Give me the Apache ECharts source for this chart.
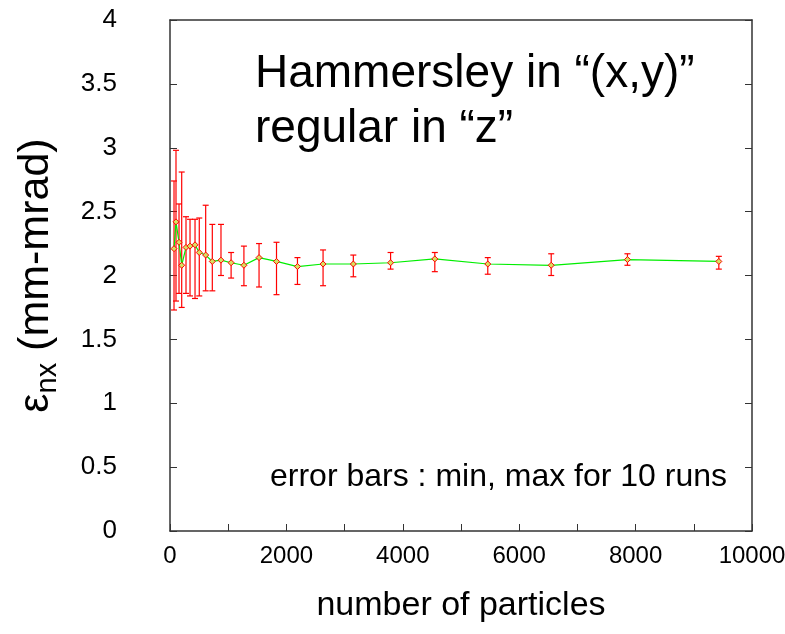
<!DOCTYPE html>
<html>
<head>
<meta charset="utf-8">
<script src="https://cdn.jsdelivr.net/npm/echarts@6/dist/echarts.min.js"></script>
<style>
  html, body { margin: 0; padding: 0; background: #fff; }
  #chart { width: 785px; height: 634px; }
</style>
</head>
<body>
<div id="chart"></div>
<script>
// Number of macro-particles per run
const particles = [69, 103, 155, 201, 275, 344, 430, 503, 613, 727, 876, 1050, 1270, 1530, 1830, 2190, 2630, 3150, 3790, 4550, 5460, 6550, 7860, 9430];
// Mean normalised emittance over the runs (mm-mrad)
const emitMean = [2.21, 2.42, 2.26, 2.08, 2.22, 2.23, 2.24, 2.18, 2.16, 2.11, 2.12, 2.10, 2.08, 2.14, 2.11, 2.07, 2.09, 2.09, 2.10, 2.13, 2.09, 2.08, 2.125, 2.11];
// Smallest and largest emittance among the 10 runs
const emitMin = [1.73, 1.80, 1.86, 1.75, 1.86, 1.84, 1.82, 1.84, 1.88, 1.88, 2.00, 1.98, 1.92, 1.91, 1.85, 1.93, 1.92, 1.99, 2.05, 2.03, 2.01, 2.00, 2.08, 2.05];
const emitMax = [2.74, 2.98, 2.56, 2.81, 2.46, 2.44, 2.44, 2.45, 2.55, 2.40, 2.40, 2.18, 2.23, 2.25, 2.26, 2.14, 2.20, 2.16, 2.18, 2.18, 2.14, 2.17, 2.17, 2.15];
// Axis ticks
const xTicks = [0, 2000, 4000, 6000, 8000, 10000];
const yTicks = [0, 0.5, 1, 1.5, 2, 2.5, 3, 3.5, 4];

const FONT = 'Liberation Sans, Arial, sans-serif';
const chart = echarts.init(document.getElementById('chart'), null, { renderer: 'canvas' });

const lineData = particles.map((n, i) => [n, emitMean[i]]);
const barData = particles.map((n, i) => [n, emitMin[i], emitMax[i]]);

const frame = { show: true, onZero: false, lineStyle: { color: '#333', width: 1.5 } };
const tickStyle = { color: '#333', width: 1 };
const plain = v => String(v);

chart.setOption({
  animation: false,
  backgroundColor: '#fff',
  grid: { left: 170, right: 33, top: 20, bottom: 103, containLabel: false, outerBoundsMode: 'none' },
  xAxis: [{
    type: 'value',
    min: xTicks[0], max: xTicks[xTicks.length - 1], interval: 2000,
    axisLine: frame,
    axisTick: { show: true, inside: true, length: 7, lineStyle: tickStyle },
    minorTick: { show: true, splitNumber: 2, length: 7, lineStyle: tickStyle },
    splitLine: { show: false },
    axisLabel: { color: '#000', fontFamily: FONT, fontSize: 24, margin: 13, formatter: plain },
    name: 'number of particles',
    nameLocation: 'middle',
    nameGap: 58,
    nameTextStyle: { color: '#000', fontFamily: FONT, fontSize: 34 }
  }, {
    type: 'value', position: 'top',
    min: xTicks[0], max: xTicks[xTicks.length - 1], interval: 2000,
    axisLine: frame, axisTick: { show: false }, axisLabel: { show: false }, splitLine: { show: false }
  }],
  yAxis: [{
    type: 'value',
    min: yTicks[0], max: yTicks[yTicks.length - 1], interval: 0.5,
    axisLine: frame,
    axisTick: { show: true, inside: true, length: 7, lineStyle: tickStyle },
    splitLine: { show: false },
    axisLabel: { color: '#000', fontFamily: FONT, fontSize: 26, margin: 53, formatter: plain },
    name: '{e|ε}{s|nx}{e| (mm-mrad)}',
    nameLocation: 'middle',
    nameGap: 108,
    nameRotate: 90,
    nameTextStyle: {
      color: '#000', fontFamily: FONT,
      rich: {
        e: { fontFamily: FONT, fontSize: 43, color: '#000', lineHeight: 52, verticalAlign: 'middle' },
        s: { fontFamily: FONT, fontSize: 29, color: '#000', lineHeight: 29, verticalAlign: 'bottom' }
      }
    }
  }, {
    type: 'value', position: 'right',
    min: yTicks[0], max: yTicks[yTicks.length - 1], interval: 0.5,
    axisLine: frame,
    axisTick: { show: true, inside: true, length: 7, lineStyle: tickStyle },
    axisLabel: { show: false }, splitLine: { show: false }
  }],
  graphic: [
    { type: 'text', left: 255, top: 51, style: { text: 'Hammersley in “(x,y)”', fill: '#000', font: '46px ' + FONT } },
    { type: 'text', left: 255, top: 106, style: { text: 'regular in “z”', fill: '#000', font: '46px ' + FONT } },
    { type: 'text', left: 270, top: 461, style: { text: 'error bars : min, max for 10 runs', fill: '#000', font: '32px ' + FONT } }
  ],
  series: [{
    type: 'custom',
    name: 'range',
    data: barData,
    encode: { x: 0, y: [1, 2] },
    z: 2,
    renderItem: function (params, api) {
      const x = api.value(0);
      const lo = api.coord([x, api.value(1)]);
      const hi = api.coord([x, api.value(2)]);
      const w = 3;
      const st = { stroke: '#ff0000', lineWidth: 1.2 };
      return {
        type: 'group',
        children: [
          { type: 'line', shape: { x1: lo[0], y1: lo[1], x2: hi[0], y2: hi[1] }, style: st },
          { type: 'line', shape: { x1: lo[0] - w, y1: lo[1], x2: lo[0] + w, y2: lo[1] }, style: st },
          { type: 'line', shape: { x1: hi[0] - w, y1: hi[1], x2: hi[0] + w, y2: hi[1] }, style: st }
        ]
      };
    }
  }, {
    type: 'line',
    name: 'mean',
    data: lineData,
    z: 3,
    lineStyle: { color: '#00ee00', width: 1.2 },
    symbol: 'diamond',
    symbolSize: 6,
    itemStyle: { color: '#d8e060', borderColor: '#ff0000', borderWidth: 1 }
  }]
});
</script>
</body>
</html>
